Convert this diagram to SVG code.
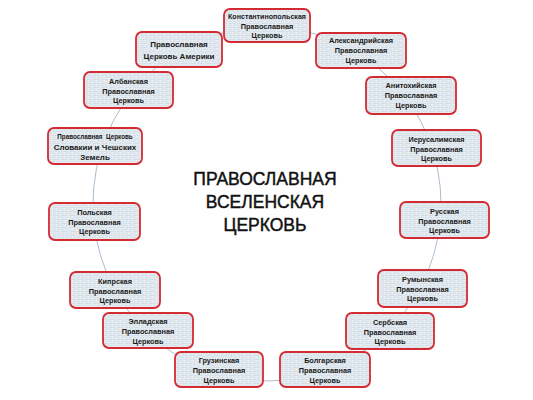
<svg xmlns="http://www.w3.org/2000/svg" width="533" height="400" viewBox="0 0 533 400">
<defs>
<pattern id="brick" patternUnits="userSpaceOnUse" width="8" height="4">
<rect width="8" height="4" fill="#d6dee8"/>
<path d="M0 0.25H8M0 2.25H8M0.25 0V2M4.25 2V4" stroke="#f3f6f9" stroke-width="0.6" fill="none"/>
</pattern>
<style>
.box{fill:url(#brick);stroke:#d42a32;stroke-width:1.8}
.t{font-family:"Liberation Sans",Arial,sans-serif;font-weight:bold;font-size:7.3px;fill:#1a1a1a;text-anchor:middle}
.ts{font-size:6.3px}
.tb{font-size:8px}
.title{font-family:"Liberation Sans",Arial,sans-serif;font-size:17.5px;fill:#111;stroke:#111;stroke-width:0.45;text-anchor:middle}
.ring{fill:none;stroke:#a9bccf;stroke-width:1}
</style>
</defs>
<rect width="533" height="400" fill="#fff"/>
<g id="connectors">
<ellipse class="ring" cx="267" cy="204" rx="174" ry="177"/>
</g>
<g id="title">
<text class="title" x="265" y="185">ПРАВОСЛАВНАЯ</text>
<text class="title" x="265" y="208">ВСЕЛЕНСКАЯ</text>
<text class="title" x="265" y="231">ЦЕРКОВЬ</text>
</g>
<g id="konst">
<rect class="box" x="224" y="9" width="86" height="33" rx="6"/>
<text class="t" x="267" y="18.5" textLength="78" lengthAdjust="spacingAndGlyphs">Константинопольская</text>
<text class="t" x="267" y="28.5">Православная</text>
<text class="t" x="267" y="38">Церковь</text>
</g>
<g id="alex">
<rect class="box" x="316" y="33" width="90" height="35" rx="6"/>
<text class="t" x="361" y="43">Александрийская</text>
<text class="t" x="361" y="53">Православная</text>
<text class="t" x="361" y="62.5">Церковь</text>
</g>
<g id="amer">
<rect class="box" x="136" y="32" width="86" height="35" rx="6"/>
<text class="t tb" x="179" y="47">Православная</text>
<text class="t tb" x="179" y="58.5">Церковь Америки</text>
</g>
<g id="antioch">
<rect class="box" x="366" y="77" width="90" height="37" rx="6"/>
<text class="t" x="411" y="88">Анитохийская</text>
<text class="t" x="411" y="98">Православная</text>
<text class="t" x="411" y="107.5">Церковь</text>
</g>
<g id="alban">
<rect class="box" x="84" y="72" width="89" height="36" rx="6"/>
<text class="t" x="128.5" y="83.5">Албанская</text>
<text class="t" x="128.5" y="93.5">Православная</text>
<text class="t" x="128.5" y="103">Церковь</text>
</g>
<g id="jerus">
<rect class="box" x="392" y="130" width="89" height="36" rx="6"/>
<text class="t" x="436.5" y="141.5">Иерусалимская</text>
<text class="t" x="436.5" y="151.5">Православная</text>
<text class="t" x="436.5" y="161">Церковь</text>
</g>
<g id="slovak">
<rect class="box" x="48" y="128" width="94" height="36" rx="6"/>
<text class="t ts" x="95" y="139" xml:space="preserve">Православная  Церковь</text>
<text class="t tb" x="95" y="149.5">Словакии и Чешских</text>
<text class="t tb" x="95" y="159.5">Земель</text>
</g>
<g id="russian">
<rect class="box" x="400" y="202" width="89" height="36" rx="6"/>
<text class="t" x="444.5" y="213.5">Русская</text>
<text class="t" x="444.5" y="223.5">Православная</text>
<text class="t" x="444.5" y="233">Церковь</text>
</g>
<g id="polish">
<rect class="box" x="49" y="203" width="91" height="37" rx="6"/>
<text class="t" x="94.5" y="214.5">Польская</text>
<text class="t" x="94.5" y="224.5">Православная</text>
<text class="t" x="94.5" y="234">Церковь</text>
</g>
<g id="romanian">
<rect class="box" x="378" y="270" width="89" height="37" rx="6"/>
<text class="t" x="422.5" y="281.5">Румынская</text>
<text class="t" x="422.5" y="291.5">Православная</text>
<text class="t" x="422.5" y="301">Церковь</text>
</g>
<g id="cyprus">
<rect class="box" x="70" y="272" width="90" height="36" rx="6"/>
<text class="t" x="115" y="283.5">Кипрская</text>
<text class="t" x="115" y="293.5">Православная</text>
<text class="t" x="115" y="303">Церковь</text>
</g>
<g id="serbian">
<rect class="box" x="346" y="313" width="88" height="36" rx="6"/>
<text class="t" x="390" y="324.5">Сербская</text>
<text class="t" x="390" y="334.5">Православная</text>
<text class="t" x="390" y="344">Церковь</text>
</g>
<g id="hellas">
<rect class="box" x="103" y="313" width="90" height="35" rx="6"/>
<text class="t" x="148" y="324">Элладская</text>
<text class="t" x="148" y="334">Православная</text>
<text class="t" x="148" y="343.5">Церковь</text>
</g>
<g id="georgian">
<rect class="box" x="175" y="352" width="88" height="35" rx="6"/>
<text class="t" x="219" y="363">Грузинская</text>
<text class="t" x="219" y="373">Православная</text>
<text class="t" x="219" y="382.5">Церковь</text>
</g>
<g id="bulgarian">
<rect class="box" x="280" y="352" width="90" height="35" rx="6"/>
<text class="t" x="325" y="363">Болгарская</text>
<text class="t" x="325" y="373">Православная</text>
<text class="t" x="325" y="382.5">Церковь</text>
</g>
</svg>
